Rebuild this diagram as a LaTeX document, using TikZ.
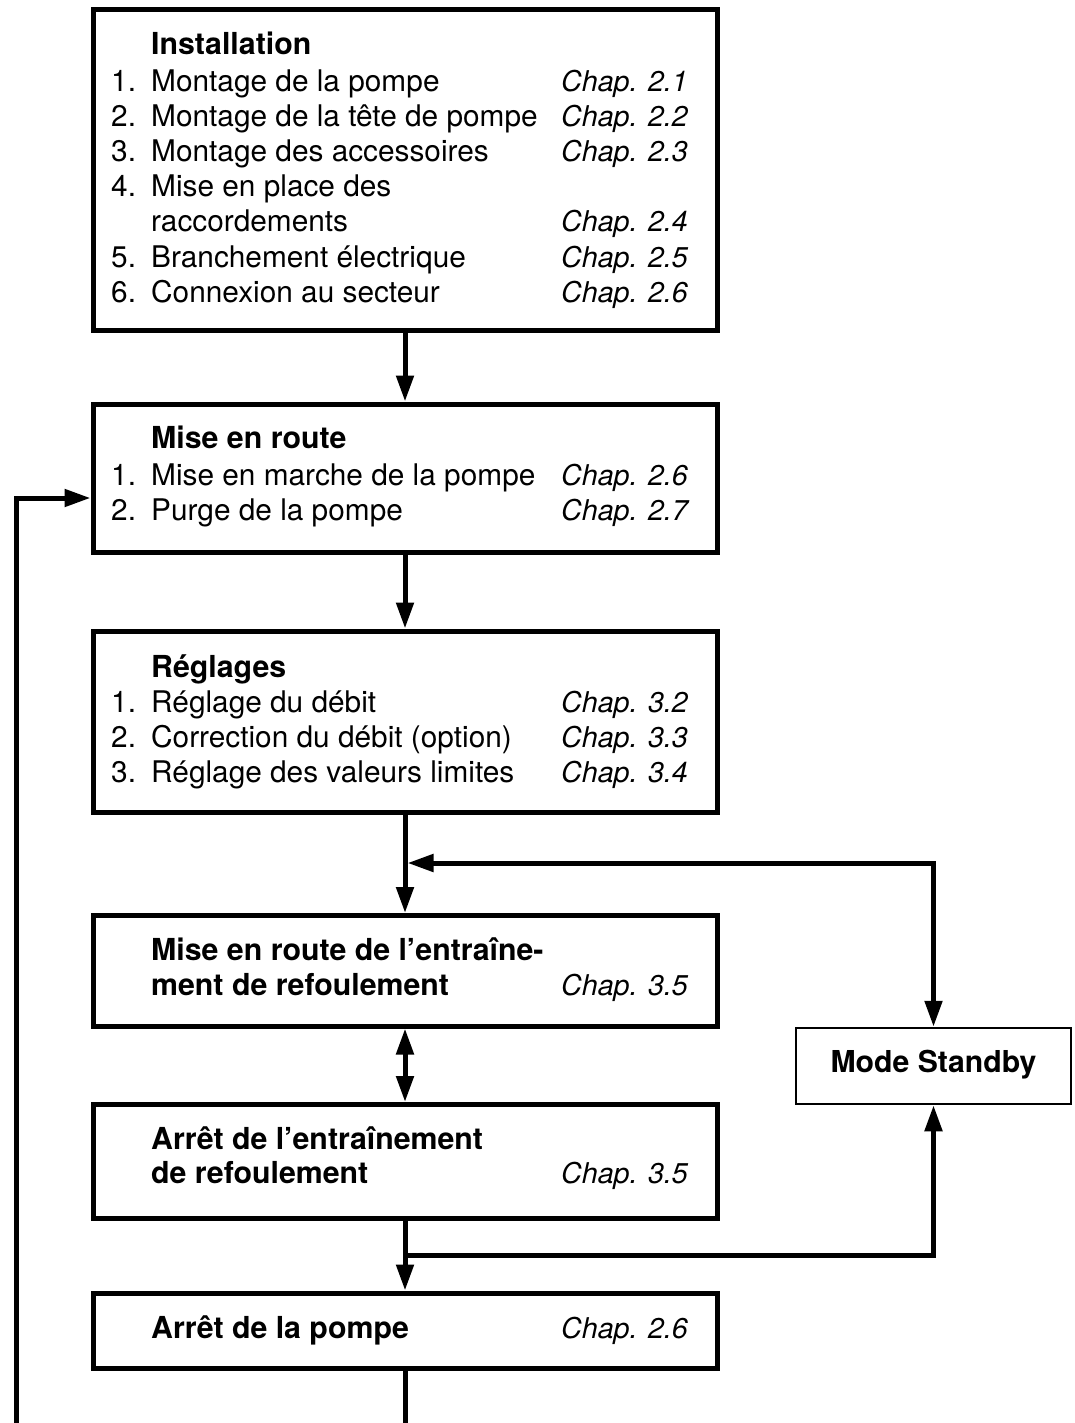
\documentclass[tikz,border=0pt]{standalone}
\usepackage{fontspec}
\setmainfont{TeX Gyre Heros}
\usetikzlibrary{arrows.meta}
\begin{document}
\begin{tikzpicture}[x=1pt,y=-1pt,
  font=\fontsize{29.8pt}{35pt}\selectfont,
  >={Triangle[length=26pt,width=17pt]},
  box/.style={draw, line width=5pt, inner sep=0pt, minimum width=624pt},
  sbox/.style={draw, line width=2.5pt, inner sep=0pt, minimum width=275pt, minimum height=76pt},
  conn/.style={line width=5pt},
  txt/.style={anchor=base west, inner sep=0pt},
  ttl/.style={txt, font=\fontsize{30.3pt}{35pt}\selectfont\bfseries},
  chap/.style={txt, font=\fontsize{28.6pt}{35pt}\selectfont\itshape},
  sbtxt/.style={anchor=base, inner sep=0pt, font=\fontsize{30.2pt}{35pt}\selectfont\bfseries}]
\useasboundingbox (0,0) rectangle (1074,1423);
% boxes
\node[box, minimum height=321pt] (b1) at (405,170) {};
\node[box, minimum height=148pt] (b2) at (405,478) {};
\node[box, minimum height=181pt] (b3) at (405,721.5) {};
\node[box, minimum height=110.5pt] (b4) at (405,970.75) {};
\node[box, minimum height=114pt] (b5) at (405,1161.5) {};
\node[box, minimum height=75.5pt] (b6) at (405,1330.75) {};
\node[sbox] (sb) at (933.5,1066) {};
% box 1
\node[ttl] (t1) at (151,55) {Installation};
\node[txt] (n11) at (111,92) {1.};
\node[txt] (i11) at (151,92) {Montage de la pompe};
\node[chap] (c11) at (561,92) {Chap. 2.1};
\node[txt] (n12) at (111,127) {2.};
\node[txt] (i12) at (151,127) {Montage de la tête de pompe};
\node[chap] (c12) at (561,127) {Chap. 2.2};
\node[txt] (n13) at (111,162) {3.};
\node[txt] (i13) at (151,162) {Montage des accessoires};
\node[chap] (c13) at (561,162) {Chap. 2.3};
\node[txt] (n14) at (111,197) {4.};
\node[txt] (i14) at (151,197) {Mise en place des};
\node[txt] (i14b) at (151,232) {raccordements};
\node[chap] (c14) at (561,232) {Chap. 2.4};
\node[txt] (n15) at (111,267) {5.};
\node[txt] (i15) at (151,267) {Branchement électrique};
\node[chap] (c15) at (561,267) {Chap. 2.5};
\node[txt] (n16) at (111,302) {6.};
\node[txt] (i16) at (151,302) {Connexion au secteur};
\node[chap] (c16) at (561,302) {Chap. 2.6};
% box 2
\node[ttl] (t2) at (151,448) {Mise en route};
\node[txt] (n21) at (111,485) {1.};
\node[txt] (i21) at (151,485) {Mise en marche de la pompe};
\node[chap] (c21) at (561,485) {Chap. 2.6};
\node[txt] (n22) at (111,520) {2.};
\node[txt] (i22) at (151,520) {Purge de la pompe};
\node[chap] (c22) at (561,520) {Chap. 2.7};
% box 3
\node[ttl] (t3) at (151,677) {Réglages};
\node[txt] (n31) at (111,712) {1.};
\node[txt] (i31) at (151,712) {Réglage du débit};
\node[chap] (c31) at (561,712) {Chap. 3.2};
\node[txt] (n32) at (111,747) {2.};
\node[txt] (i32) at (151,747) {Correction du débit (option)};
\node[chap] (c32) at (561,747) {Chap. 3.3};
\node[txt] (n33) at (111,782) {3.};
\node[txt] (i33) at (151,782) {Réglage des valeurs limites};
\node[chap] (c33) at (561,782) {Chap. 3.4};
% box 4
\node[ttl] (t4a) at (151,960) {Mise en route de l’entraîne-};
\node[ttl] (t4b) at (151,995) {ment de refoulement};
\node[chap] (c4) at (561,995) {Chap. 3.5};
% box 5
\node[ttl] (t5a) at (151,1149) {Arrêt de l’entraînement};
\node[ttl] (t5b) at (151,1183) {de refoulement};
\node[chap] (c5) at (561,1183) {Chap. 3.5};
% box 6
\node[ttl] (t6) at (151,1338) {Arrêt de la pompe};
\node[chap] (c6) at (561,1338) {Chap. 2.6};
% standby
\node[sbtxt] (tsb) at (933.5,1072) {Mode Standby};
% coordinates
\coordinate (j1) at (407.5,863);
\coordinate (j2) at (405,1255);
\coordinate (e1) at (405,1423);
\coordinate (e2) at (16,1423);
\coordinate (ja) at (b2.west |- 0,498);
% connectors
\draw[conn,->] (b1.south) -- (b2.north);
\draw[conn,->] (b2.south) -- (b3.north);
\draw[conn,->] (b3.south) -- (b4.north);
\draw[conn,<->] (j1) -| (sb.north);
\draw[conn,<->] (b4.south) -- (b5.north);
\draw[conn,->] (b5.south) -- (b6.north);
\draw[conn,->] (j2) -| (sb.south);
\draw[conn] (b6.south) -- (e1);
\draw[conn,->] (e2) |- (ja);
\end{tikzpicture}
\end{document}
